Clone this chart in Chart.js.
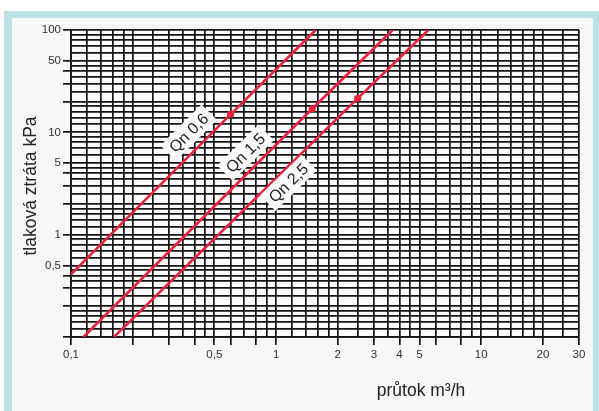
<!DOCTYPE html>
<html>
<head>
<meta charset="utf-8">
<script src="https://cdn.jsdelivr.net/npm/chart.js@4.4.0/dist/chart.umd.min.js"></script>
<style>
  html, body { margin: 0; padding: 0; background: #fff; }
  #wrap { width: 599px; height: 411px; }
</style>
</head>
<body>
<div id="wrap"><canvas id="myChart" width="599" height="411"></canvas></div>
<script>
// flow (m3/h) vs pressure loss (kPa)
const qn06Flow = [0.1, 0.6, 1.56];
const qn06Loss = [0.41, 15, 100];
const qn15Flow = [0.115, 1.5, 3.7];
const qn15Loss = [0.1, 17, 100];
const qn25Flow = [0.162, 2.5, 5.53];
const qn25Loss = [0.1, 21.5, 100];
const seriesNames = ['Qn 0,6', 'Qn 1,5', 'Qn 2,5'];

// log paper lines inside each decade
const gridSteps = [1, 1.2, 1.4, 1.6, 1.8, 2, 2.5, 3, 3.5, 4, 4.5, 5, 6, 7, 8, 9];
const decades = [0.1, 1, 10];

// tick marks and tick labels
const flowMarks = [0.1, 0.2, 0.3, 0.4, 0.5, 0.6, 0.8, 1, 2, 3, 4, 5, 6, 8, 10, 20, 30];
const lossMarks = [0.1, 0.2, 0.3, 0.4, 0.5, 1, 2, 3, 4, 5, 10, 20, 30, 40, 50, 100];
const flowLabels = [0.1, 0.5, 1, 2, 3, 4, 5, 10, 20, 30];
const lossLabels = [0.5, 1, 5, 10, 50, 100];

const RED = '#e8213d';
const INK = '#141414';
const FONT = '"Liberation Sans", Arial, sans-serif';

function buildGrid(max) {
    const vals = [];
    decades.forEach(d => gridSteps.forEach(s => {
        const v = Number((d * s).toPrecision(6));
        if (v <= max) vals.push(v);
    }));
    if (vals.indexOf(max) < 0) vals.push(max);
    return vals;
}
const flowGrid = buildGrid(30);
const lossGrid = buildGrid(100);

const has = (list, v) => list.some(x => Math.abs(x - v) < v * 1e-6);
const fmt = v => String(v).replace('.', ',');
const pts = (xs, ys) => xs.map((x, i) => ({ x: x, y: ys[i] }));

function line(name, xs, ys) {
    return {
        label: name,
        data: pts(xs, ys),
        showLine: true,
        borderColor: RED,
        borderWidth: 2.6,
        backgroundColor: RED,
        pointBackgroundColor: RED,
        pointBorderWidth: 0,
        pointRadius: [0, 3.6, 0],
        pointHoverRadius: 0,
        tension: 0
    };
}

// where the rotated Qn labels sit (data units)
const labelAnchors = [
    { flow: 0.375, loss: 9.9 },
    { flow: 0.71, loss: 6.3 },
    { flow: 1.15, loss: 3.2 }
];

const backdrop = {
    id: 'backdrop',
    beforeDraw(chart) {
        const c = chart.ctx, a = chart.chartArea;
        c.save();
        c.fillStyle = '#ffffff';
        c.fillRect(0, 0, chart.width, chart.height);
        c.fillStyle = '#bde2e5';
        c.fillRect(4, 11, 595, 400);
        c.fillStyle = '#f7f7f5';
        c.fillRect(12, 18, 581, 393);
        c.fillStyle = '#fdfdfd';
        c.fillRect(a.left, a.top, a.right - a.left, a.bottom - a.top);
        c.restore();
    }
};

const annotations = {
    id: 'annotations',
    afterDatasetsDraw(chart) {
        const c = chart.ctx, xs = chart.scales.x, ys = chart.scales.y;
        c.save();
        c.font = '16px ' + FONT;
        c.textAlign = 'center';
        c.textBaseline = 'middle';
        chart.data.datasets.forEach((ds, i) => {
            const p0 = ds.data[0], p1 = ds.data[ds.data.length - 1];
            const ang = Math.atan2(ys.getPixelForValue(p1.y) - ys.getPixelForValue(p0.y),
                                   xs.getPixelForValue(p1.x) - xs.getPixelForValue(p0.x));
            const px = xs.getPixelForValue(labelAnchors[i].flow);
            const py = ys.getPixelForValue(labelAnchors[i].loss);
            const w = c.measureText(ds.label).width + 10;
            c.save();
            c.translate(px, py);
            c.rotate(ang);
            c.fillStyle = '#fbfbfb';
            c.fillRect(-w / 2, -11, w, 22);
            c.fillStyle = '#1e1e1e';
            c.fillText(ds.label, 0, 1);
            c.restore();
        });
        // axis titles
        c.fillStyle = '#222';
        c.font = '17.5px ' + FONT;
        c.save();
        c.translate(31, 186);
        c.rotate(-Math.PI / 2);
        c.fillText('tlaková ztráta kPa', 0, 0);
        c.restore();
        c.textBaseline = 'alphabetic';
        c.fillText('průtok m³/h', 421, 396);
        c.restore();
    }
};

new Chart(document.getElementById('myChart'), {
    type: 'scatter',
    data: {
        datasets: [
            line(seriesNames[0], qn06Flow, qn06Loss),
            line(seriesNames[1], qn15Flow, qn15Loss),
            line(seriesNames[2], qn25Flow, qn25Loss)
        ]
    },
    options: {
        responsive: false,
        animation: false,
        layout: { padding: { left: 0, top: 30, right: 20, bottom: 0 } },
        plugins: { legend: { display: false }, tooltip: { enabled: false } },
        scales: {
            x: {
                type: 'logarithmic',
                position: 'bottom',
                min: 0.1,
                max: 30,
                afterBuildTicks: s => { s.ticks = flowGrid.map(v => ({ value: v })); },
                afterFit: s => { s.height = 74; },
                border: { display: true, color: INK, width: 1.8 },
                grid: {
                    color: INK,
                    lineWidth: 1.7,
                    tickLength: 8,
                    tickColor: ctx => (ctx.tick && has(flowMarks, ctx.tick.value)) ? INK : 'rgba(0,0,0,0)'
                },
                ticks: {
                    autoSkip: false,
                    maxRotation: 0,
                    padding: 3,
                    color: '#333',
                    font: { family: FONT, size: 11.5 },
                    callback: v => has(flowLabels, v) ? fmt(v) : ''
                }
            },
            y: {
                type: 'logarithmic',
                min: 0.1,
                max: 100,
                afterBuildTicks: s => { s.ticks = lossGrid.map(v => ({ value: v })); },
                afterFit: s => { s.width = 71; },
                border: { display: true, color: INK, width: 1.8 },
                grid: {
                    color: INK,
                    lineWidth: 1.7,
                    tickLength: 8,
                    tickColor: ctx => (ctx.tick && has(lossMarks, ctx.tick.value)) ? INK : 'rgba(0,0,0,0)'
                },
                ticks: {
                    autoSkip: false,
                    padding: 2,
                    color: '#333',
                    font: { family: FONT, size: 11.5 },
                    callback: v => has(lossLabels, v) ? fmt(v) : ''
                }
            }
        }
    },
    plugins: [backdrop, annotations]
});
</script>
</body>
</html>
